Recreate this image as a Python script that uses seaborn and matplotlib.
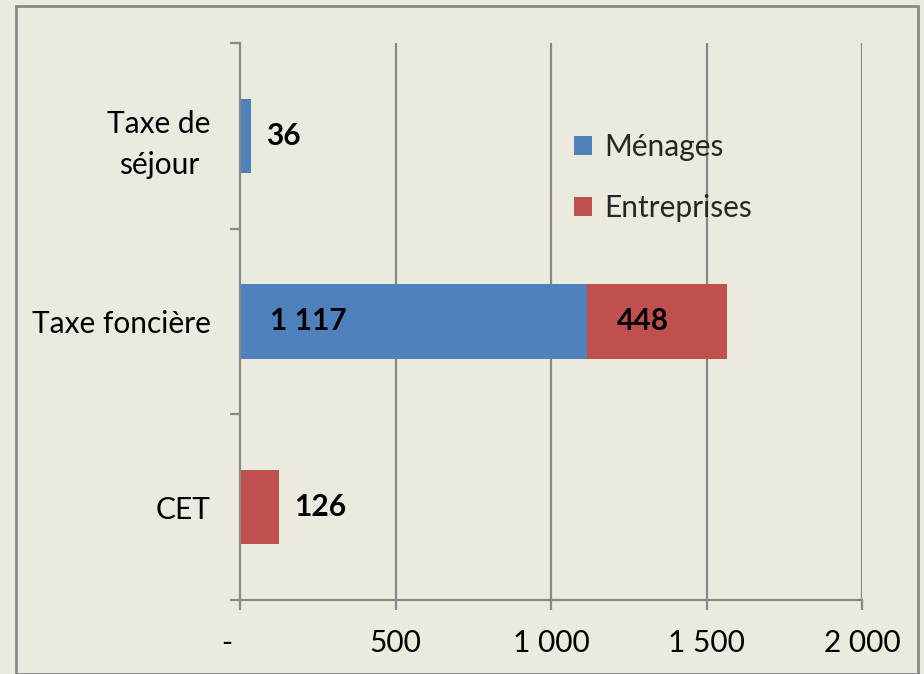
import matplotlib
matplotlib.use("Agg")
import matplotlib.pyplot as plt
import seaborn as sns
import pandas as pd
from matplotlib.patches import Rectangle, Patch
import matplotlib.transforms as mtrans

categories = ["Taxe de\nséjour", "Taxe foncière", "CET"]
menages = [36, 1117, 0]
entreprises = [0, 448, 126]
x_ticks = [0, 500, 1000, 1500, 2000]
x_tick_labels = ["-", "500", "1 000", "1 500", "2 000"]
label_menages = ["36", "1 117", ""]
label_entreprises = ["", "448", "126"]

BG = "#EBEADF"
BLUE = "#4F81BD"
RED = "#C0504D"
GRID = "#888888"
FS = 21.5

sns.set_theme(style="white")
plt.rcParams["font.family"] = ["Lato", "DejaVu Sans"]

df = pd.DataFrame({
    "cat": categories,
    "Ménages": menages,
    "Entreprises": entreprises,
})
df["total"] = df["Ménages"] + df["Entreprises"]

fig = plt.figure(figsize=(9.24, 6.74), dpi=100, facecolor=BG)
ax = fig.add_axes([240 / 924, 1 - 600 / 674, (862 - 240) / 924, (600 - 43) / 674])
ax.set_facecolor(BG)

sns.barplot(data=df, y="cat", x="total", orient="h", color=RED, width=0.4,
            saturation=1, ax=ax, linewidth=0, order=categories)
sns.barplot(data=df, y="cat", x="Ménages", orient="h", color=BLUE, width=0.4,
            saturation=1, ax=ax, linewidth=0, order=categories)

ax.set_xlim(0, 2000)
ax.set_ylim(2.5, -0.5)
ax.set_xlabel("")
ax.set_ylabel("")

ax.set_xticks(x_ticks)
ax.set_xticklabels(x_tick_labels, fontsize=FS)
for x in x_ticks[1:]:
    ax.axvline(x, color=GRID, lw=1.6, zorder=0)

for s in ["top", "right"]:
    ax.spines[s].set_visible(False)
for s in ["left", "bottom"]:
    ax.spines[s].set_color(GRID)
    ax.spines[s].set_linewidth(1.6)

ax.tick_params(axis="x", length=7, width=1.6, color=GRID, direction="out",
               bottom=True, pad=14, labelcolor="black")
for lbl in ax.get_xticklabels():
    if lbl.get_text() == "-":
        lbl.set_transform(lbl.get_transform() + mtrans.ScaledTranslation(-13 / 100, 0, fig.dpi_scale_trans))

ax.set_yticks(range(len(categories)))
ax.set_yticklabels(categories, fontsize=FS, linespacing=1.55)
ax.set_yticks([-0.5, 0.5, 1.5, 2.5], minor=True)
ax.tick_params(axis="y", which="major", length=0, pad=21, labelcolor="black")
ax.tick_params(axis="y", which="minor", length=7, width=1.6, color=GRID, direction="out", left=True)
for lbl in ax.get_yticklabels():
    lbl.set_multialignment("center")

# data labels: inside base for wide segments, outside end for narrow ones
px = 2000 / 622.0
def place(base, width):
    if width / px > 60:
        return base + 30 * px
    return base + width + 15 * px

for i in range(len(categories)):
    m = menages[i]
    e = entreprises[i]
    if label_menages[i]:
        ax.text(place(0, m), i, label_menages[i], ha="left", va="center",
                fontsize=FS, fontweight="bold", color="black")
    if label_entreprises[i]:
        ax.text(place(m, e), i, label_entreprises[i], ha="left", va="center",
                fontsize=FS, fontweight="bold", color="black")

handles = [Patch(facecolor=BLUE, edgecolor="none"), Patch(facecolor=RED, edgecolor="none")]
ax.legend(handles, ["Ménages", "Entreprises"], loc="upper left",
          bbox_to_anchor=((562 - 240) / 622, (600 - 121) / 557),
          frameon=False, fontsize=FS, handlelength=0.6, handleheight=0.6,
          handletextpad=0.4, labelspacing=1.1, borderaxespad=0)

fig.patches.append(Rectangle((16 / 924, 0), (918 - 16) / 924, 1 - 6 / 674,
                             transform=fig.transFigure, fill=False,
                             edgecolor=GRID, linewidth=2, zorder=10))

fig.savefig("out.png", dpi=100, facecolor=BG)
